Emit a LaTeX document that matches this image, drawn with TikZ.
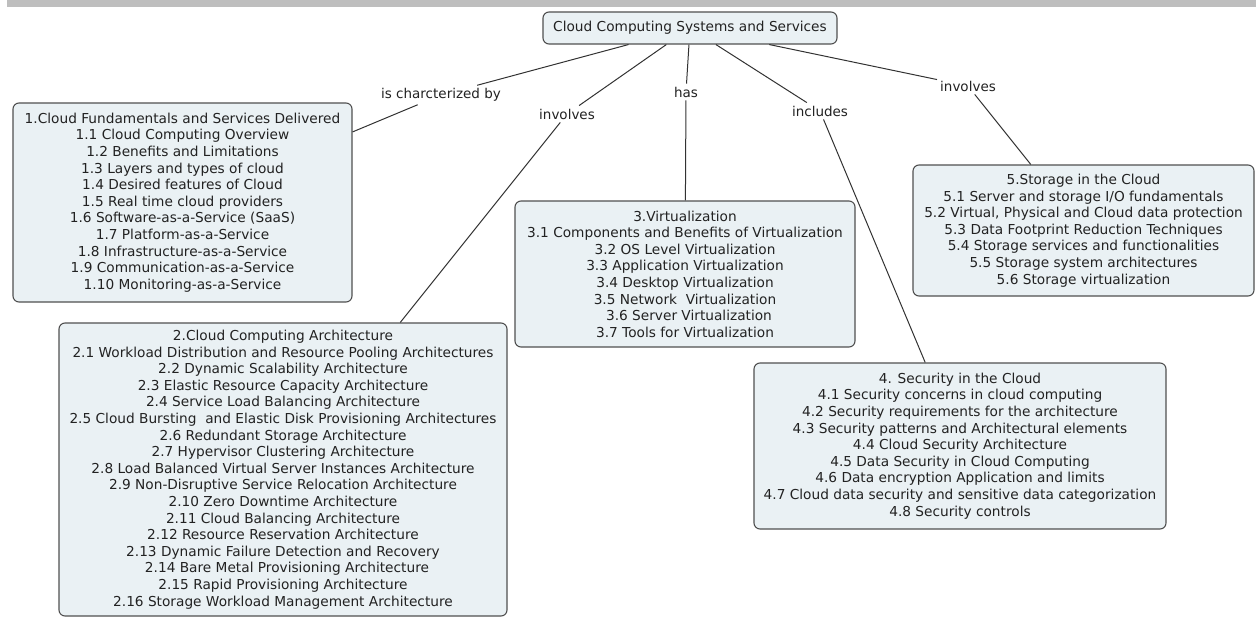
\documentclass[tikz,border=0pt]{standalone}
\usepackage{fontspec}
\setmainfont{DejaVu Sans}
\definecolor{boxfill}{RGB}{234,241,244}
\definecolor{boxline}{RGB}{80,80,80}
\definecolor{txt}{RGB}{34,34,34}
\definecolor{wire}{RGB}{50,50,50}
\definecolor{bar}{RGB}{190,190,190}
\tikzset{
  concept/.style={draw=boxline, fill=boxfill, rounded corners=6pt, line width=1.1pt,
    align=center, text=txt, inner sep=0pt,
    font=\fontsize{13.7}{16.6}\selectfont},
  linkphrase/.style={text=txt, inner sep=3pt, font=\fontsize{13.5}{15}\selectfont},
  wirestyle/.style={draw=wire, line width=1pt}
}
\begin{document}
\begin{tikzpicture}[x=1pt, y=-1pt]
\useasboundingbox (0,0) rectangle (1256,618);
% header strip
\fill[bar] (7,0) rectangle (1256,7);

% root concept
\node[concept, minimum width=294pt, minimum height=32pt] (root) at (690,28)
  {Cloud Computing Systems and Services};

% unit concepts
\node[concept, minimum width=339pt, minimum height=199pt] (u1) at (182.5,202.5)
  {1.Cloud Fundamentals and Services Delivered\\
   1.1 Cloud Computing Overview\\
   1.2 Benefits and Limitations\\
   1.3 Layers and types of cloud\\
   1.4 Desired features of Cloud\\
   1.5 Real time cloud providers\\
   1.6 Software-as-a-Service (SaaS)\\
   1.7 Platform-as-a-Service\\
   1.8 Infrastructure-as-a-Service\\
   1.9 Communication-as-a-Service\\
   1.10 Monitoring-as-a-Service};

\node[concept, minimum width=448pt, minimum height=293pt] (u2) at (283,469.5)
  {2.Cloud Computing Architecture\\
   2.1 Workload Distribution and Resource Pooling Architectures\\
   2.2 Dynamic Scalability Architecture\\
   2.3 Elastic Resource Capacity Architecture\\
   2.4 Service Load Balancing Architecture\\
   2.5 Cloud Bursting\ \ and Elastic Disk Provisioning Architectures\\
   2.6 Redundant Storage Architecture\\
   2.7 Hypervisor Clustering Architecture\\
   2.8 Load Balanced Virtual Server Instances Architecture\\
   2.9 Non-Disruptive Service Relocation Architecture\\
   2.10 Zero Downtime Architecture\\
   2.11 Cloud Balancing Architecture\\
   2.12 Resource Reservation Architecture\\
   2.13 Dynamic Failure Detection and Recovery\\
   \hspace*{8pt}2.14 Bare Metal Provisioning Architecture\\
   2.15 Rapid Provisioning Architecture\\
   2.16 Storage Workload Management Architecture};

\node[concept, minimum width=340pt, minimum height=146pt] (u3) at (685,274)
  {3.Virtualization\\
   3.1 Components and Benefits of Virtualization\\
   3.2 OS Level Virtualization\\
   3.3 Application Virtualization\\
   3.4 Desktop Virtualization\\
   3.5 Network\ \ Virtualization\\
   \hspace*{8pt}3.6 Server Virtualization\\
   3.7 Tools for Virtualization};

\node[concept, minimum width=412pt, minimum height=166pt] (u4) at (960,446)
  {4. Security in the Cloud\\
   4.1 Security concerns in cloud computing\\
   4.2 Security requirements for the architecture\\
   4.3 Security patterns and Architectural elements\\
   4.4 Cloud Security Architecture\\
   4.5 Data Security in Cloud Computing\\
   4.6 Data encryption Application and limits\\
   4.7 Cloud data security and sensitive data categorization\\
   4.8 Security controls};

\node[concept, minimum width=341pt, minimum height=131pt] (u5) at (1083.5,230.5)
  {5.Storage in the Cloud\\
   5.1 Server and storage I/O fundamentals\\
   5.2 Virtual, Physical and Cloud data protection\\
   5.3 Data Footprint Reduction Techniques\\
   5.4 Storage services and functionalities\\
   5.5 Storage system architectures\\
   5.6 Storage virtualization};

% linking phrases
\node[linkphrase] (l1) at (441,95) {is charcterized by};
\node[linkphrase] (l2) at (567,114) {involves};
\node[linkphrase] (l3) at (686,92) {has};
\node[linkphrase] (l4) at (820,111) {includes};
\node[linkphrase] (l5) at (968,86) {involves};

% connectors
\draw[wirestyle] (root) -- (l1) (l1) -- (u1);
\draw[wirestyle] (root) -- (l2) (l2) -- (u2);
\draw[wirestyle] (root) -- (l3) (l3) -- (u3);
\draw[wirestyle] (root) -- (l4) (l4) -- (u4);
\draw[wirestyle] (root) -- (l5) (l5) -- (u5);
\end{tikzpicture}
\end{document}
